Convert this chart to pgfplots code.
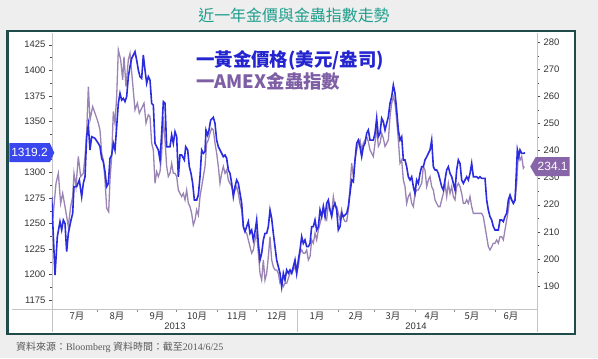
\documentclass[border=0pt]{standalone}
\usepackage{fontspec}
\setmainfont{Liberation Sans}
\newfontfamily\cjk{Noto Sans CJK TC}
\newfontfamily\serifL{Liberation Serif}
\usepackage{pgfplots}
\usepackage{pgfplotstable}
\pgfplotsset{compat=1.18}
\usetikzlibrary{shapes.symbols}
\definecolor{goldc}{HTML}{2B2BE0}
\definecolor{amexc}{HTML}{9A84B4}
\definecolor{goldbox}{HTML}{3A46EE}
\definecolor{amexbox}{HTML}{8864A8}
\definecolor{goldleg}{HTML}{2424D0}
\definecolor{amexleg}{HTML}{7E5FA5}
\definecolor{titlec}{HTML}{1E9E8C}
\definecolor{framec}{HTML}{1F4B4B}
\definecolor{bgc}{HTML}{EEEEEE}
\definecolor{axc}{HTML}{C4C4C4}

% x = position along the time axis (Jul 1 2013 = 56, Jan 1 2014 = 297, ~1.31 per day)
\pgfplotstableread{
x y
51.67 1276.1
55 1199.4
57.33 1237.0
60 1251.7
61.67 1243.5
63.33 1253.3
65 1250.0
66.67 1222.3
68.33 1240.2
70.67 1251.7
72.67 1259.8
74 1286.0
76.67 1286.0
79.33 1292.5
81.67 1276.1
83.33 1289.2
85 1295.7
86.67 1334.9
88.33 1346.3
90 1321.9
91.67 1334.9
95 1333.3
98.33 1328.4
100 1325.1
101.67 1313.7
103.33 1310.4
105 1300.6
106.67 1286.0
108.33 1289.2
110 1313.7
111.67 1317.0
113.33 1328.4
115 1321.9
116.67 1344.7
118.33 1367.6
120 1377.4
121.67 1370.8
123.33 1372.5
125 1369.2
126.67 1374.1
128.33 1393.7
130 1403.5
131.67 1411.6
135 1418.2
136.67 1410.0
138.33 1400.2
140 1393.7
141.67 1392.1
143.33 1414.9
145 1400.2
146.67 1387.2
148.33 1393.7
150 1390.4
151.67 1367.6
153.33 1365.9
155 1328.4
156.67 1325.1
158.33 1321.9
160 1312.1
161.67 1338.2
163.33 1369.2
165 1367.6
166.67 1325.1
168.33 1325.1
170 1325.1
171.67 1336.5
173.33 1328.4
175 1339.8
176.67 1334.9
178.33 1295.7
180 1317.0
181.67 1317.0
184.33 1312.1
185.67 1325.1
187.67 1321.9
189.33 1305.5
191 1299.0
192.67 1289.2
194.33 1272.9
196.67 1272.9
198.33 1277.8
200 1295.7
201.67 1321.9
203.33 1318.6
205 1320.2
206 1341.4
207.67 1336.5
209 1341.4
210.67 1351.2
213.33 1353.9
215 1348.0
216.67 1331.6
218.33 1325.1
220 1321.9
221.67 1318.6
223.33 1315.3
225 1317.0
226.67 1313.7
228.33 1302.3
230 1299.0
231.67 1289.2
233.33 1276.1
235 1286.0
236.67 1292.5
238.33 1289.2
240 1279.4
241.67 1269.6
243.33 1246.8
245 1241.9
246.67 1246.8
248.33 1251.7
250 1240.2
251.67 1243.5
253.33 1233.7
255 1241.9
256.67 1253.3
258.33 1230.4
260 1214.1
261.67 1220.6
263.33 1233.7
265 1240.2
266.67 1240.2
268.33 1246.8
270 1263.1
271.67 1254.9
273.33 1240.2
275 1227.2
276.67 1214.1
278.33 1207.6
280 1201.1
281.67 1188.0
283.33 1201.1
285 1194.5
286.67 1204.3
288.33 1201.1
290 1204.3
291.67 1201.1
293.33 1207.6
295 1214.1
296.67 1201.1
298.33 1214.1
300 1223.9
301.67 1237.0
303.33 1230.4
305 1233.7
306.67 1227.2
308.33 1227.2
310 1230.4
311.67 1246.8
313.33 1246.8
315 1253.3
316.67 1243.5
318.33 1246.8
320 1263.1
321.67 1256.6
323.33 1266.4
325 1256.6
326.67 1269.6
328.33 1272.9
330 1263.1
331.67 1256.6
333.33 1266.4
335 1269.6
336.67 1263.1
338.33 1243.5
340 1246.8
341.67 1259.8
343.33 1256.6
345 1258.2
346.67 1259.8
348.33 1266.4
350 1279.4
351.67 1292.5
353.33 1290.8
355 1312.1
356.67 1328.4
358.33 1331.6
360 1325.1
361.67 1315.3
363.33 1325.1
365 1328.4
366.67 1338.2
368.33 1341.4
370 1331.6
371.67 1331.6
373.33 1331.6
375 1338.2
376.67 1352.9
378.33 1334.9
380 1338.2
381.67 1352.9
383.33 1349.6
385 1341.4
386.67 1348.0
388.33 1354.5
390 1367.6
391.67 1374.1
393.33 1385.5
395 1377.4
396.67 1361.0
398.33 1341.4
400 1331.6
401.67 1334.9
403.33 1312.1
405 1312.1
406.67 1305.5
408.33 1295.7
410 1292.5
411.67 1295.7
413.33 1286.0
415 1279.4
416.67 1292.5
418.33 1289.2
420 1299.0
421.67 1305.5
423.33 1305.5
425 1312.1
426.67 1315.3
428.33 1318.6
430 1321.9
431.67 1331.6
433.33 1305.5
435 1302.3
436.67 1302.3
438.33 1299.0
440 1292.5
441.67 1286.0
443.33 1282.7
445 1292.5
446.67 1302.3
448.33 1305.5
450 1299.0
451.67 1295.7
453.33 1289.2
455 1282.7
456.67 1302.3
458.33 1312.1
460 1308.8
461.67 1292.5
463.33 1289.2
465 1292.5
466.67 1295.7
468.33 1292.5
470 1299.0
471.67 1308.8
473.33 1295.7
475 1295.7
476.67 1295.7
478.33 1294.1
480 1295.7
481.67 1294.1
483.33 1294.1
485 1294.1
486.67 1272.9
488.33 1263.1
490 1256.6
491.67 1253.3
493.33 1246.8
495 1243.5
496.67 1243.5
498.33 1243.5
500 1253.3
501.67 1253.3
503.33 1251.7
505 1256.6
506.67 1259.8
508.33 1272.9
510 1277.8
511.67 1272.9
513.33 1269.6
515 1272.9
516 1292.5
517.33 1321.9
518.67 1315.3
520 1321.9
521.67 1318.6
523.33 1318.6
525 1319.2
}\golddata

\pgfplotstableread{
x y
51.67 221.8
53.33 216.8
56 227.9
58.33 231.6
60.67 220.5
62.67 224.2
65 219.3
66.67 215.6
68.33 211.9
70.67 219.3
72.67 223.0
74 231.6
76 226.7
78.33 237.8
80.67 230.4
83.33 231.6
85 237.8
86.67 246.4
88.33 263.6
90 251.3
92.67 256.2
95 253.8
98.33 250.1
100 247.6
101.67 239.0
103.33 236.5
105 229.1
106.67 218.7
108.67 217.4
110 229.1
111.67 237.8
113.33 254.4
115 250.1
116.67 259.9
118.33 277.2
120.67 273.5
122.67 266.1
124 274.7
126 263.6
128.33 273.5
130 275.9
132.67 264.8
135 255.0
137.33 257.5
139.33 253.8
141.67 255.6
144 257.5
146 250.1
148.33 253.2
150 252.5
151.67 242.7
153.33 240.2
155 227.9
156.67 232.2
158.33 230.4
160 232.2
161.67 239.0
163.33 252.5
165 243.9
166.67 234.1
168.33 230.4
170 231.6
171.67 235.3
173.33 231.6
175 231.6
176.67 230.4
178.33 225.4
180 224.2
181.67 223.0
183.33 224.2
185 221.8
186.67 225.4
188.33 220.5
190 219.3
191.67 216.8
193.33 212.5
195 214.4
196.67 218.1
198.33 216.2
200 223.0
201.67 226.7
203.33 230.4
205 234.1
206.67 242.7
208.33 243.9
210 246.4
211.67 248.2
213.33 247.6
215 242.7
216.67 239.0
218.33 234.1
220 227.9
221.67 231.6
223.33 234.1
225 231.6
226.67 232.8
228.33 229.1
230 227.9
231.67 226.7
233.33 224.2
235 225.4
236.67 226.7
238.33 224.2
240 220.5
241.67 218.1
243.33 211.9
245 210.1
246.67 209.5
248.33 207.0
250 204.5
251.67 202.1
253.33 203.3
255 207.0
256.67 209.5
258.33 202.1
260 194.7
261.67 192.2
263.33 199.6
265 192.2
266.67 194.7
268.33 200.8
270 208.2
271.67 199.6
273.33 197.1
275 195.9
276.67 195.9
278.33 194.7
280 191.0
281.67 191.6
283.33 189.8
285 191.0
286.67 191.0
288.33 192.8
290 194.7
291.67 194.7
293.33 195.9
295 197.1
296.67 194.7
298.33 197.1
300 202.1
301.67 203.3
303.33 202.1
305 202.1
306.67 203.3
308.33 199.6
310 200.8
311.67 207.0
313.33 205.8
315 209.5
316.67 207.0
318.33 210.7
320 213.1
321.67 215.6
323.33 219.3
325 215.6
326.67 214.4
328.33 220.5
330 218.1
331.67 216.8
333.33 223.0
335 219.3
336.67 219.3
338.33 216.8
340 214.4
341.67 218.1
343.33 215.0
345 213.8
346.67 213.8
348.33 218.1
350 226.7
351.67 235.3
353.33 230.4
355 236.5
356.67 240.2
358.33 242.7
360 243.9
361.67 240.2
363.33 242.7
365 243.9
366.67 245.1
368.33 243.3
370 240.2
371.67 239.0
373.33 237.8
375 242.7
376.67 248.8
378.33 241.5
380 242.7
381.67 246.4
383.33 244.5
385 241.5
386.67 242.7
388.33 243.9
390 252.5
391.67 257.5
393.33 259.9
395 257.5
396.67 251.3
398.33 243.9
400 235.3
401.67 236.5
403.33 229.1
405 226.7
406.67 220.5
408.33 223.0
410 224.2
411.67 220.5
413.33 219.3
415 224.2
416.67 225.4
418.33 225.4
420 226.7
421.67 227.9
423.33 234.1
425 232.8
426.67 226.7
428.33 229.1
430 230.4
431.67 226.7
433.33 225.4
435 221.8
436.67 220.5
438.33 219.3
440 219.3
441.67 221.8
443.33 224.2
445 227.9
446.67 223.0
448.33 227.9
450 224.2
451.67 226.7
453.33 223.0
455 221.8
456.67 226.7
458.33 227.9
460 226.7
461.67 224.2
463.33 220.5
465 220.5
466.67 221.8
468.33 220.5
470 223.0
471.67 219.3
473.33 216.8
475 216.8
476.67 216.8
480 216.8
481.67 216.8
483.33 215.6
485 211.9
486.67 208.2
488.33 204.5
490 203.3
491.67 204.5
493.33 205.8
495 205.8
496.67 207.0
498.33 205.8
500 208.2
501.67 208.2
503.33 207.0
505 210.7
506.67 214.4
508.33 218.1
510 223.0
511.67 221.8
513.33 220.5
515 221.8
516.67 227.9
518.33 239.0
520 236.5
521.67 237.8
523.33 233.5
524.33 234.1
}\amexdata

\pgfplotsset{
  base/.style={
    scale only axis, width=485bp, height=276bp,
    xmin=52, xmax=537,
    axis line style={axc},
    tick label style={font=\fontsize{9.5}{10}\selectfont, text=black!80},
    /pgf/number format/assume math mode=true,
    /pgf/number format/1000 sep={},
    tick align=outside,
    major tick length=3bp, minor tick length=1.5bp,
    y tick style={black!70},
  }
}

\begin{document}
% picture coordinates: image pixel (X,Y) -> (X-52, 309-Y) in bp; axis box origin at (0,0)
\begin{tikzpicture}[x=1bp,y=1bp]
\fill[bgc] (-52,309) rectangle (546,-49);
\useasboundingbox (-52,309) rectangle (546,-49);
\filldraw[fill=white,draw=framec,line width=2.7bp] (-44.7,278) rectangle (523,-25);

\node[text=titlec, font=\cjk\fontsize{16}{18}\selectfont] at (242,294) {近一年金價與金蟲指數走勢};

% AMEX gold bugs index (right axis)
\begin{axis}[base,
  ymin=181.5, ymax=283.4,
  axis y line*=right, hide x axis,
  ytick={190,200,...,280}, minor y tick num=1,
]
\addplot[amexc, line width=1.3bp] table {\amexdata};
\coordinate (amexend) at (axis cs:530,234.1);
\end{axis}

% Gold price (left axis)
\begin{axis}[base,
  ymin=1166.1, ymax=1436.5,
  axis y line*=left, axis x line*=bottom,
  ytick={1175,1200,1225,1250,1275,1300,1325,1350,1375,1400,1425},
  yticklabels={1175,1200,1225,1250,1275,1300,{},1350,1375,1400,1425},
  minor y tick num=1,
  xtick={96.6,137.2,176.5,217.1,256.4,297,337.7,374.3,414.9,454.2,494.9},
  xticklabels={},
  x tick style={black!45},
  extra x ticks={77,117,157,197,237,277,317,356,393,432,472,511},
  extra x tick labels={7月,8月,9月,10月,11月,12月,1月,2月,3月,4月,5月,6月},
  extra x tick style={major tick length=0pt, tick label style={font=\cjk\fontsize{9.5}{10}\selectfont, text=black!80}},
]
\addplot[goldc, line width=1.6bp] table {\golddata};
\coordinate (goldend) at (axis cs:54.5,1319.2);
\end{axis}

% axis extensions and year band
\draw[axc] (-40,0) -- (0,0);
\draw[axc] (0,0) -- (0,-23);
\draw[axc] (245,0) -- (245,-23);
\draw[axc] (485,0) -- (485,-23);
\node[font=\fontsize{9.5}{10}\selectfont, text=black!80] at (123,-17.5) {2013};
\node[font=\fontsize{9.5}{10}\selectfont, text=black!80] at (364,-17.5) {2014};

% legend
\node[anchor=west, text=goldleg, font=\cjk\bfseries\fontsize{18.5}{20}\selectfont, inner sep=0pt] at (144,249) {一黃金價格(美元/盎司)};
\node[anchor=west, text=amexleg, font=\cjk\bfseries\fontsize{18.5}{20}\selectfont, inner sep=0pt] at (144,228) {一AMEX金蟲指數};

% last-value boxes
\node[signal, signal to=east, signal pointer angle=130, fill=goldbox, text=white,
  font=\fontsize{12}{12}\selectfont, inner xsep=2bp, inner ysep=1bp, minimum height=19bp, anchor=east] at (goldend) {1319.2};
\node[signal, signal to=west, signal pointer angle=120, fill=amexbox, text=white,
  font=\fontsize{12}{12}\selectfont, inner xsep=2bp, inner ysep=1bp, minimum height=19bp, anchor=west] at (amexend) {234.1};

% source
\node[anchor=west, text=black!65, font=\fontsize{10}{11}\selectfont, inner sep=0pt] at (-36,-38)
  {{\cjk 資料來源：}{\serifL Bloomberg }{\cjk 資料時間：截至}{\serifL 2014/6/25}};
\end{tikzpicture}
\end{document}
